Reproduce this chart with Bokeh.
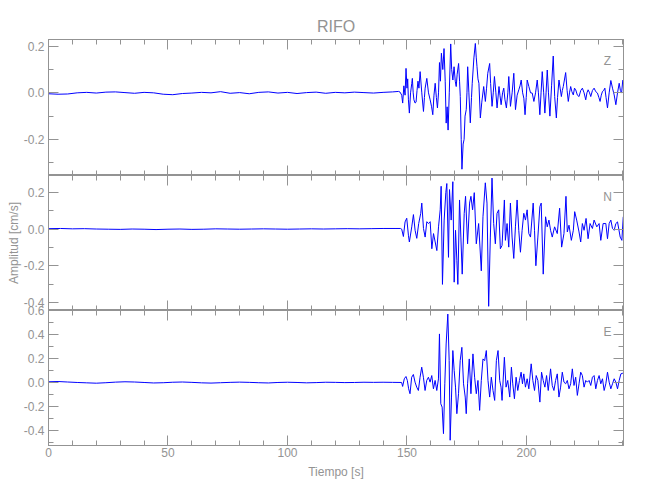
from bokeh.plotting import figure
from bokeh.models import (Range1d, LinearAxis, SingleIntervalTicker, Label,
                          PrintfTickFormatter, CustomJSTickFormatter)
from bokeh.layouts import column
from bokeh.embed import file_html
from bokeh.resources import INLINE

# ---------------- data ----------------
title_text = "RIFO"
x_label = "Tiempo [s]"
y_label = "Amplitud [cm/s]"
components = ["Z", "N", "E"]

z_time = [0, 4, 8, 12, 16, 20, 24, 28, 32, 36, 40, 44, 48, 52, 56, 60, 64, 68, 72, 76,
          80, 84, 88, 92, 96, 100, 104, 108, 112, 116, 120, 124, 128, 132, 136, 140, 144, 146.5,
          147.1, 147.8, 148.2, 148.7, 149.2, 149.6, 150.0, 150.3, 150.6, 151.0, 151.5, 152.0,
          152.25, 152.6, 152.9, 153.4, 153.8, 154.2, 154.6, 155.0, 155.5, 156.2, 156.9, 157.3,
          157.6, 158.3, 159.0, 159.7, 160.3, 160.8, 161.3, 161.8, 162.3, 162.75, 163.2, 163.6,
          164.0, 164.4, 165.0, 165.5, 166.0, 166.4, 166.8, 167.2, 167.7, 168.3, 168.7, 169.2,
          169.7, 170.2, 170.6, 171.0, 171.6, 172.0, 172.3, 172.7, 173.0, 173.5, 173.9, 174.3,
          174.8, 175.1, 175.4, 175.9, 176.5, 177.0, 177.3, 178.0, 178.6, 179.0, 179.3, 179.7,
          180.1, 180.7, 181.3, 182.1, 182.8, 183.3, 183.8, 184.6, 185.0, 185.6, 186.1, 186.6,
          187.2, 187.7, 188.5, 188.9, 189.4, 190.0, 190.5, 191.0, 191.6, 192.2, 192.6, 193.3,
          194.0, 194.7, 195.4, 196.1, 196.8, 197.3, 197.8, 198.4, 198.9, 199.4, 199.9, 200.3,
          201.0, 201.7, 202.4, 203.1, 203.8, 204.5, 205.0, 205.6, 206.1, 206.6, 207.2, 207.7,
          208.2, 208.7, 209.2, 209.8, 210.5, 211.2, 211.8, 212.5, 213.0, 213.6, 214.1, 214.6,
          215.0, 215.4, 216.4, 217.0, 217.5, 218.0, 218.5, 219.0, 219.6, 220.1, 220.6, 221.3,
          222.0, 222.7, 223.4, 224.1, 224.8, 225.3, 225.8, 226.4, 226.9, 227.6, 228.3, 229.0,
          229.7, 230.3, 230.8, 231.3, 231.8, 232.3, 232.8, 233.3, 233.9, 234.6, 235.3, 236.0,
          236.7, 237.4, 238.1, 238.8, 239.3, 239.8, 240.3]
z_amp = [-0.004, -0.006, -0.005, 0.000, 0.002, -0.001, 0.003, 0.004, 0.001, -0.002, 0.002,
         0.000, -0.006, -0.008, -0.003, -0.001, 0.002, 0.000, 0.005, -0.002, 0.001, -0.004,
         0.002, 0.004, -0.001, 0.002, -0.003, 0.001, 0.003, -0.002, 0.002, 0.000, 0.003, 0.001,
         -0.001, 0.002, 0.004, 0.006,
         0.003, -0.010, -0.044, 0.030, -0.010, 0.105, 0.020, 0.060, -0.030, -0.087, 0.000, 0.040,
         0.062, 0.000, -0.030, -0.044, -0.040, 0.010, 0.050, 0.020, 0.091, 0.000, -0.080, -0.020,
         0.020, 0.062, 0.000, -0.030, -0.060, -0.094, -0.010, 0.041, -0.020, -0.065, 0.000, 0.130,
         0.050, 0.170, 0.100, 0.190, 0.050, -0.130, -0.060, -0.160, 0.000, 0.210, 0.100, 0.055,
         0.112, 0.050, 0.027, 0.080, 0.126, 0.050, -0.016, -0.200, -0.328, -0.220, -0.200, -0.100,
         -0.072, 0.000, 0.112, 0.000, -0.129, -0.020, 0.041, 0.150, 0.212, 0.150, 0.112, 0.060,
         0.041, -0.108, -0.040, 0.027, -0.037, 0.020, 0.084, 0.126, 0.040, -0.058, 0.000, 0.070,
         0.000, -0.065, 0.027, -0.010, -0.051, 0.000, 0.020, -0.030, -0.065, 0.000, 0.070, -0.058,
         0.000, 0.084, -0.072, -0.010, 0.013, 0.030, 0.055, 0.000, -0.023, -0.094, -0.020, 0.055,
         0.027, 0.000, -0.001, -0.037, 0.000, 0.055, 0.000, -0.094, 0.000, 0.091, 0.000, -0.087,
         0.000, 0.098, 0.000, -0.100, 0.030, 0.158, -0.016, -0.108, -0.020, 0.055, 0.020, -0.016,
         0.010, 0.027, 0.087, 0.010, -0.037, 0.000, 0.027, 0.005, -0.009, 0.020, 0.013, -0.010,
         -0.016, 0.010, 0.020, 0.000, -0.030, 0.000, 0.013, 0.000, -0.016, 0.010, 0.020, 0.005,
         -0.001, -0.020, -0.037, -0.010, 0.006, 0.010, 0.020, -0.020, -0.065, 0.000, 0.053, 0.020,
         -0.009, -0.051, 0.000, 0.041, 0.010, -0.001, 0.055]

n_time = [0, 5, 10, 15, 20, 25, 30, 35, 40, 45, 50, 55, 60, 65, 70, 75, 80, 85, 90, 95, 100,
          105, 110, 115, 120, 125, 130, 135, 140, 145, 147.3,
          147.8, 148.5, 149.2, 149.9, 150.6, 151.0, 152.0, 152.7, 153.4, 154.1, 154.9, 155.75,
          156.2, 156.9, 157.6, 158.3, 159.0, 159.7, 160.4, 161.1, 161.8, 162.5, 163.2, 163.9,
          164.3, 164.85, 165.55, 166.25, 166.67, 167.37, 167.79, 168.49, 169.19, 169.75, 170.31,
          170.87, 171.29, 171.99, 172.55, 173.11, 173.95, 174.51, 175.36, 176.2, 176.76, 177.46,
          178.16, 179.0, 179.98, 181.1, 181.8, 182.78, 183.48, 184.18, 184.88, 185.58, 186.28,
          186.98, 187.68, 188.38, 189.08, 189.78, 190.76, 191.18, 191.88, 192.58, 193.28, 193.98,
          194.68, 195.38, 196.08, 196.78, 197.48, 198.18, 198.88, 199.58, 200.28, 200.99, 201.69,
          202.81, 203.37, 203.93, 204.77, 205.61, 206.17, 207.01, 207.99, 208.69, 209.39, 210.09,
          210.79, 211.77, 212.89, 213.87, 214.71, 215.69, 216.53, 217.09, 217.79, 218.77, 219.61,
          220.17, 221.01, 221.99, 222.69, 223.39, 224.1, 224.94, 225.78, 226.62, 227.6, 228.3,
          229.42, 230.4, 231.1, 232.08, 233.2, 233.9, 234.6, 235.3, 236.0, 236.7, 237.4, 238.1,
          239.22, 239.92, 240.5]
n_amp = [0.003, 0.004, 0.002, 0.003, 0.001, 0.000, -0.001, 0.001, 0.000, -0.002, 0.000, 0.001,
         -0.001, 0.000, 0.002, 0.001, 0.000, 0.001, 0.002, 0.001, 0.000, 0.001, 0.002, 0.001,
         0.002, 0.003, 0.002, 0.003, 0.004, 0.004, 0.004,
         0.000, -0.040, 0.040, 0.060, -0.033, -0.070, 0.013, 0.080, -0.006, -0.050, 0.031, 0.087,
         0.143, 0.004, -0.043, 0.041, 0.031, 0.041, -0.107, -0.024, -0.070, -0.117, 0.013, 0.106,
         0.235, -0.302, 0.050, 0.200, 0.250, -0.154, 0.217, 0.050, 0.260, -0.290, -0.006,
         -0.170, -0.302, 0.160, -0.043, -0.246, 0.087, 0.180, -0.080, 0.143, 0.180, 0.106,
         0.200, -0.080, 0.031, -0.228, 0.068, 0.254, 0.143, -0.422, -0.043, 0.280, 0.031,
         -0.080, 0.087, 0.106, -0.107, -0.089, 0.160, -0.061, 0.031, -0.098, 0.143, -0.043,
         -0.160, 0.013, 0.160, -0.006, -0.126, -0.006, 0.087, 0.050, 0.106, -0.024, -0.043,
         0.143, -0.006, -0.200, -0.043, 0.124, 0.143, -0.246, 0.068, 0.013, 0.050, -0.006,
         -0.043, 0.013, -0.024, 0.115, -0.098, -0.024, 0.180, -0.015, 0.022, -0.061, -0.006,
         0.096, 0.050, -0.015, -0.070, 0.031, -0.006, 0.059, -0.052, 0.031, 0.004, 0.050,
         0.013, 0.031, -0.061, 0.031, 0.031, -0.052, 0.031, 0.050, 0.004, -0.006, 0.031, 0.040,
         -0.043, -0.061, 0.068]

e_time = [0, 4, 8, 12, 16, 20, 24, 28, 32, 36, 40, 44, 48, 52, 56, 60, 64, 68, 72, 76, 80,
          84, 88, 92, 96, 100, 104, 108, 112, 116, 120, 124, 128, 132, 136, 140, 144, 147.76,
          148.18, 148.88, 149.58, 150.14, 150.7, 151.27, 151.97, 152.67, 153.37, 154.07, 154.77,
          155.47, 156.17, 156.87, 157.57, 158.27, 158.97, 159.67, 160.37, 161.07, 161.77, 162.47,
          163.17, 163.59, 164.15, 164.71, 165.27, 165.83, 166.39, 167.09, 167.65, 168.07, 168.63,
          169.19, 169.75, 170.31, 170.87, 171.57, 172.27, 172.97, 173.67, 174.37, 174.79, 175.36,
          176.06, 176.76, 177.6, 178.3, 179.0, 179.7, 180.4, 181.1, 181.8, 182.5, 183.2, 183.9,
          184.6, 185.3, 186.0, 186.7, 187.4, 188.1, 188.8, 189.36, 189.78, 190.76, 191.46,
          192.16, 193.0, 193.7, 194.26, 194.96, 195.66, 196.36, 197.06, 197.76, 198.32, 198.88,
          199.58, 200.28, 200.99, 201.97, 202.67, 203.37, 204.07, 204.77, 205.61, 206.31, 207.01,
          207.71, 208.41, 209.11, 210.09, 210.79, 211.49, 212.19, 212.89, 213.59, 214.29, 214.99,
          215.69, 216.39, 217.09, 217.79, 218.49, 219.19, 219.89, 220.59, 221.29, 221.99, 222.69,
          223.39, 224.1, 224.8, 225.5, 226.2, 226.9, 227.6, 228.3, 229.0, 229.7, 230.4, 231.1,
          231.8, 232.5, 233.2, 233.9, 234.6, 235.3, 236.0, 236.7, 237.4, 238.1, 238.8, 239.5,
          240.34]
e_amp = [0.006, 0.008, 0.004, 0.000, -0.003, -0.006, -0.002, 0.003, 0.006, 0.004, 0.000,
         -0.004, -0.002, 0.002, 0.004, 0.001, -0.003, -0.005, -0.002, 0.001, 0.003, 0.001,
         -0.002, -0.004, 0.000, 0.002, 0.000, -0.003, -0.001, 0.002, 0.001, -0.001, 0.000, 0.002,
         0.001, 0.002, 0.001, 0.000,
         -0.033, 0.031, 0.050, 0.017, -0.053, -0.094, 0.044, 0.067, 0.003, -0.039, -0.067,
         0.044, 0.128, 0.044, -0.067, 0.017, 0.044, 0.003, 0.058, -0.053, 0.017, -0.067,
         0.030, 0.406, -0.178, -0.206, -0.428, -0.011, 0.322, 0.572, 0.183, -0.483, -0.122,
         0.267, 0.100, -0.039, -0.261, -0.094, 0.183, 0.294, -0.011, -0.122, -0.261, -0.011,
         0.197, -0.094, 0.239, 0.044, -0.094, 0.017, -0.233, 0.017, 0.197, 0.183, 0.267, 0.017,
         -0.122, 0.044, -0.067, -0.150, 0.183, 0.267, 0.017, -0.039, -0.150, 0.211, -0.039,
         0.017, -0.122, 0.128, -0.011, -0.136, 0.044, -0.067, 0.017, 0.086, -0.011, 0.072,
         -0.039, 0.031, -0.053, 0.156, 0.017, -0.067, 0.058, 0.017, -0.164, 0.086, 0.017,
         -0.039, 0.058, -0.067, 0.114, -0.025, -0.067, 0.017, 0.072, -0.122, -0.039, 0.086,
         0.003, -0.011, 0.017, -0.053, -0.011, 0.114, -0.025, 0.044, -0.108, -0.011, 0.086,
         0.058, -0.039, 0.017, 0.003, 0.017, -0.025, 0.044, 0.058, -0.053, 0.017, 0.058, -0.011,
         0.031, -0.067, -0.011, 0.086, 0.003, -0.053, -0.011, 0.031, 0.003, -0.053, 0.017, 0.072,
         0.078]

traces = {"Z": (z_time, z_amp), "N": (n_time, n_amp), "E": (e_time, e_amp)}

# axis limits of each panel (as drawn)
x_limits = (0, 240.6)
y_limits = {"Z": (-0.355, 0.229), "N": (-0.445, 0.294), "E": (-0.527, 0.602)}

# ---------------- style ----------------
GRAY = "#939393"
TRACE = "#0000ff"
FONT = "Liberation Sans"
FRAME_W = 575
FRAME_H = {"Z": 136, "N": 135, "E": 135}
OVERLAP = 7   # E canvas is pulled up so its top tick label can spill over N

shared_x = Range1d(*x_limits)


def style_axis(ax, show_labels):
    ax.axis_line_color = GRAY
    ax.major_tick_line_color = GRAY
    ax.minor_tick_line_color = GRAY
    ax.major_tick_in = 10
    ax.major_tick_out = 0
    ax.minor_tick_in = 5
    ax.minor_tick_out = 0
    if show_labels:
        ax.major_label_text_color = GRAY
        ax.major_label_text_font = FONT
        ax.major_label_text_font_size = "12px"
        ax.major_label_standoff = 4
    else:
        ax.formatter = CustomJSTickFormatter(code="return ''")
        ax.major_label_text_font_size = "1px"
        ax.major_label_standoff = 0


panels = []
for i, comp in enumerate(components):
    first = i == 0
    last = i == len(components) - 1
    y0, y1 = y_limits[comp]
    fh = FRAME_H[comp]
    kw = {}
    if last:
        kw["margin"] = (-OVERLAP, 0, 0, 0)
    p = figure(frame_width=FRAME_W, frame_height=fh,
               x_range=shared_x, y_range=Range1d(y0, y1),
               x_axis_location=None, y_axis_location=None,
               output_backend="svg", toolbar_location=None,
               min_border_left=48, min_border_right=10,
               min_border_top=39 if first else (OVERLAP if last else 0),
               min_border_bottom=36 if last else 0, **kw)
    p.grid.visible = False
    p.outline_line_color = GRAY
    p.background_fill_color = "white"
    if last:
        p.border_fill_alpha = 0
    else:
        p.border_fill_color = "white"

    xt = dict(interval=50, num_minor_ticks=5)
    yt = dict(interval=0.2, num_minor_ticks=2)

    left = LinearAxis(ticker=SingleIntervalTicker(**yt), formatter=PrintfTickFormatter(format="%.1f"))
    style_axis(left, True)
    if comp == "N":
        left.axis_label = y_label
        left.axis_label_text_font = FONT
        left.axis_label_text_font_size = "12px"
        left.axis_label_text_font_style = "normal"
        left.axis_label_text_color = GRAY
        left.axis_label_standoff = 0
    p.add_layout(left, "left")

    right = LinearAxis(ticker=SingleIntervalTicker(**yt))
    style_axis(right, False)
    p.add_layout(right, "right")

    top = LinearAxis(ticker=SingleIntervalTicker(**xt))
    style_axis(top, False)
    p.add_layout(top, "above")

    bottom = LinearAxis(ticker=SingleIntervalTicker(**xt))
    style_axis(bottom, last)
    if last:
        bottom.major_label_standoff = 2
        bottom.axis_label = x_label
        bottom.axis_label_text_font = FONT
        bottom.axis_label_text_font_size = "12px"
        bottom.axis_label_text_font_style = "normal"
        bottom.axis_label_text_color = GRAY
        bottom.axis_label_standoff = 5
    p.add_layout(bottom, "below")

    t, a = traces[comp]
    p.line(t, a, line_color=TRACE, line_width=1)

    xs = x_limits[1] - x_limits[0]
    ys = y1 - y0
    p.add_layout(Label(x=x_limits[1] - xs * 16 / FRAME_W, y=y1 - ys * 21 / fh,
                       text=comp, text_align="center", text_baseline="middle",
                       text_font=FONT, text_font_size="12px", text_color=GRAY))

    if first:
        p.title.text = title_text
        p.title.align = "center"
        p.title.text_font = FONT
        p.title.text_font_size = "16px"
        p.title.text_font_style = "normal"
        p.title.text_color = GRAY
        p.title.standoff = 10
    panels.append(p)

layout = column(*panels, spacing=0)
open("out.html", "w").write(file_html(layout, INLINE))
